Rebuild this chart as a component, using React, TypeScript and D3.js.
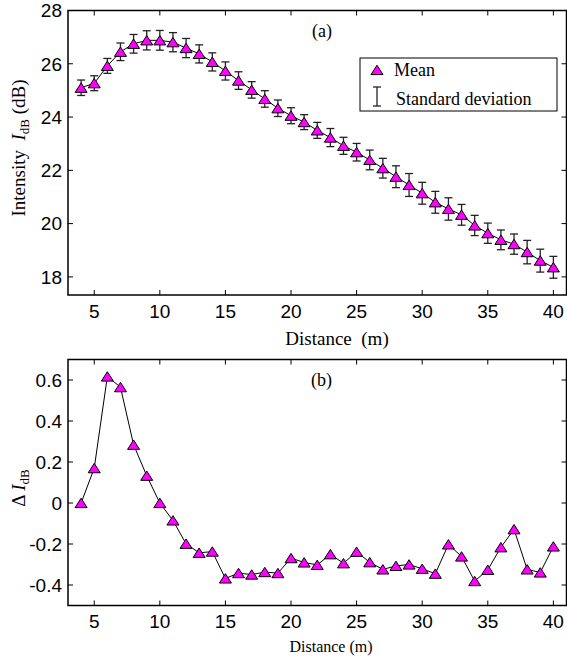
import * as d3 from 'd3';

// distance (m) for every measurement point
const distance = [4, 5, 6, 7, 8, 9, 10, 11, 12, 13, 14, 15, 16, 17, 18, 19, 20, 21, 22, 23, 24, 25, 26, 27, 28, 29, 30, 31, 32, 33, 34, 35, 36, 37, 38, 39, 40];

// (a) mean intensity, dB
const meanDb = [25.1, 25.27, 25.92, 26.45, 26.75, 26.88, 26.88, 26.81, 26.59, 26.37, 26.07, 25.73, 25.37, 25.02, 24.68, 24.33, 24.05, 23.81, 23.5, 23.23, 22.92, 22.68, 22.39, 22.08, 21.76, 21.45, 21.14, 20.8, 20.55, 20.33, 19.93, 19.64, 19.39, 19.23, 18.93, 18.61, 18.36];

// (a) standard deviation, dB
const stdDb = [0.29, 0.28, 0.28, 0.33, 0.35, 0.36, 0.37, 0.36, 0.36, 0.34, 0.34, 0.34, 0.33, 0.31, 0.31, 0.31, 0.3, 0.28, 0.3, 0.34, 0.32, 0.33, 0.37, 0.37, 0.41, 0.43, 0.41, 0.41, 0.42, 0.39, 0.38, 0.38, 0.37, 0.38, 0.44, 0.43, 0.41];

// (b) delta I_dB
const deltaDb = [0, 0.17, 0.617, 0.565, 0.284, 0.133, 0, -0.085, -0.199, -0.243, -0.237, -0.368, -0.342, -0.349, -0.337, -0.342, -0.269, -0.29, -0.302, -0.25, -0.294, -0.238, -0.289, -0.324, -0.307, -0.3, -0.321, -0.345, -0.202, -0.261, -0.381, -0.326, -0.216, -0.128, -0.324, -0.339, -0.212];

const xTicks = [5, 10, 15, 20, 25, 30, 35, 40];
const topYTicks = [18, 20, 22, 24, 26, 28];
const botYTicks = [-0.4, -0.2, 0, 0.2, 0.4, 0.6];

const W = 567;
const H = 658;
const sans = 'Liberation Sans, Arial, sans-serif';
const serif = 'Liberation Serif, Times New Roman, serif';
const magenta = '#ff00ff';
const tickLen = 5;

const tri = (cx: number, cy: number) =>
  `M${cx},${cy - 4.8}L${cx + 6},${cy + 4.6}L${cx - 6},${cy + 4.6}Z`;

const x = d3.scaleLinear().domain([3, 41]).range([68, 566.5]);
const yTop = d3.scaleLinear().domain([17.32, 28]).range([295, 10.5]);
const yBot = d3.scaleLinear().domain([-0.5, 0.7]).range([605.5, 359.5]);

function Frame({ y, yTicks, tickLabelY }: { y: d3.ScaleLinear<number, number>; yTicks: number[]; tickLabelY: number }) {
  const [x0, x1] = x.range();
  const [y0, y1] = y.range();
  return (
    <g>
      {xTicks.map((t) => (
        <g key={'x' + t}>
          <line x1={x(t)} x2={x(t)} y1={y0} y2={y0 - tickLen} stroke="#000" />
          <line x1={x(t)} x2={x(t)} y1={y1} y2={y1 + tickLen} stroke="#000" />
          <text x={x(t)} y={tickLabelY} textAnchor="middle" fontFamily={sans} fontSize={19}>
            {t}
          </text>
        </g>
      ))}
      {yTicks.map((t) => (
        <g key={'y' + t}>
          <line x1={x0} x2={x0 + tickLen} y1={y(t)} y2={y(t)} stroke="#000" />
          <line x1={x1} x2={x1 - tickLen} y1={y(t)} y2={y(t)} stroke="#000" />
          <text x={62} y={y(t)} dy="0.36em" textAnchor="end" fontFamily={sans} fontSize={19}>
            {String(t)}
          </text>
        </g>
      ))}
      <rect x={x0} y={y1} width={x1 - x0} height={y0 - y1} fill="none" stroke="#000" strokeWidth={1.5} />
    </g>
  );
}

export default function App() {
  const topLine = d3.line<number>().x((_, i) => x(distance[i])).y((d) => yTop(d));
  const botLine = d3.line<number>().x((_, i) => x(distance[i])).y((d) => yBot(d));

  return (
    <svg width={W} height={H} style={{ position: 'absolute', left: 0, top: 0, background: '#fff' }}>
      <rect width={W} height={H} fill="#fff" />

      {/* panel (a) */}
      <path d={topLine(meanDb) ?? ''} fill="none" stroke="#000" strokeWidth={1} />
      {distance.map((d, i) => {
        const cx = x(d);
        const lo = yTop(meanDb[i] - stdDb[i]);
        const hi = yTop(meanDb[i] + stdDb[i]);
        return (
          <g key={'e' + d} stroke="#222" strokeWidth={1.3}>
            <line x1={cx} x2={cx} y1={lo} y2={hi} />
            <line x1={cx - 4} x2={cx + 4} y1={lo} y2={lo} />
            <line x1={cx - 4} x2={cx + 4} y1={hi} y2={hi} />
          </g>
        );
      })}
      {distance.map((d, i) => (
        <path key={'m' + d} d={tri(x(d), yTop(meanDb[i]))} fill={magenta} stroke="#000" strokeWidth={1} />
      ))}
      <Frame y={yTop} yTicks={topYTicks} tickLabelY={318} />
      <text x={312} y={37} fontFamily={serif} fontSize={18}>(a)</text>

      {/* legend */}
      <rect x={360} y={58} width={197} height={53} fill="#fff" stroke="#000" strokeWidth={1} />
      <path d={tri(377, 70)} fill={magenta} stroke="#000" strokeWidth={1} />
      <text x={394} y={76} fontFamily={serif} fontSize={18}>Mean</text>
      <g stroke="#222" strokeWidth={1.3}>
        <line x1={377} x2={377} y1={87} y2={106} />
        <line x1={373} x2={381} y1={87} y2={87} />
        <line x1={373} x2={381} y1={106} y2={106} />
      </g>
      <text x={396} y={105} fontFamily={serif} fontSize={18}>Standard deviation</text>

      {/* axis labels (a) */}
      <text x={337} y={345} textAnchor="middle" fontFamily={serif} fontSize={19} xmlSpace="preserve">
        Distance  (m)
      </text>
      <text transform="translate(25,148) rotate(-90)" textAnchor="middle" fontFamily={serif} fontSize={19} xmlSpace="preserve">
        Intensity  <tspan fontStyle="italic">I</tspan>
        <tspan fontSize={13} dy={4}>dB</tspan>
        <tspan dy={-4}> (dB)</tspan>
      </text>

      {/* panel (b) */}
      <path d={botLine(deltaDb) ?? ''} fill="none" stroke="#000" strokeWidth={1} />
      {distance.map((d, i) => (
        <path key={'b' + d} d={tri(x(d), yBot(deltaDb[i]))} fill={magenta} stroke="#000" strokeWidth={1} />
      ))}
      <Frame y={yBot} yTicks={botYTicks} tickLabelY={628} />
      <text x={311} y={386} fontFamily={serif} fontSize={18}>(b)</text>

      <text x={331} y={652} textAnchor="middle" fontFamily={serif} fontSize={16}>
        Distance (m)
      </text>
      <text transform="translate(25,488) rotate(-90)" textAnchor="middle" fontFamily={serif} fontSize={19} xmlSpace="preserve">
        Δ <tspan fontStyle="italic">I</tspan>
        <tspan fontSize={13} dy={4}>dB</tspan>
      </text>
    </svg>
  );
}
